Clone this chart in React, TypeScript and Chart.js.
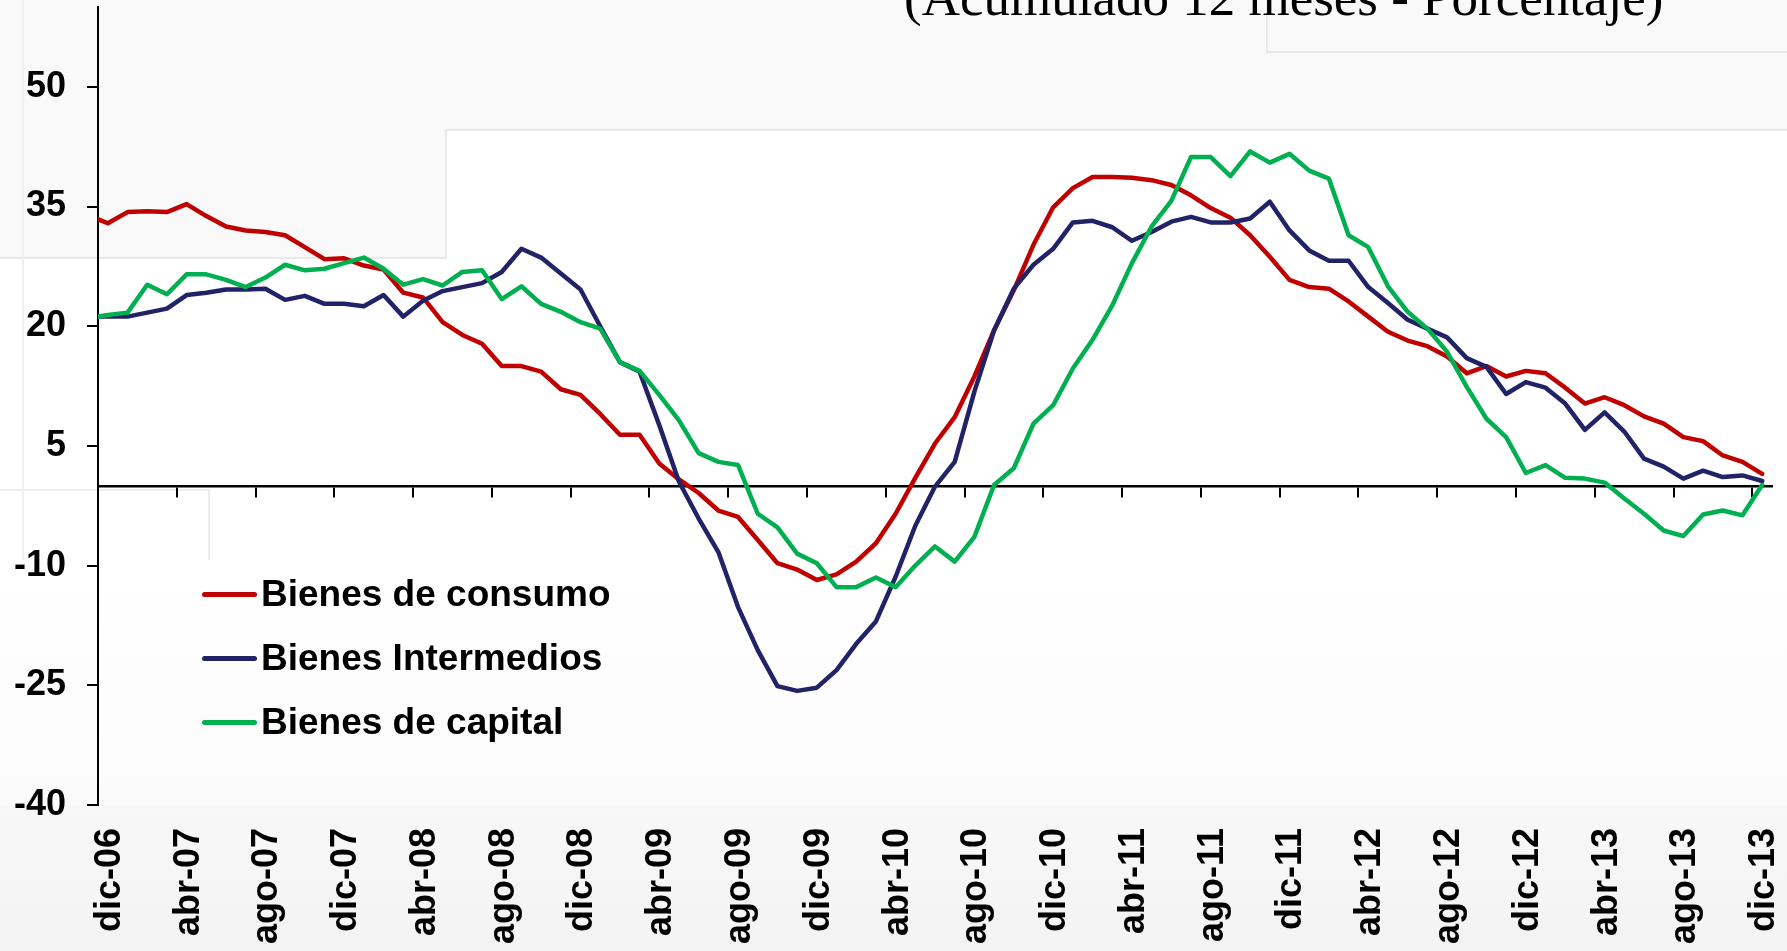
import React, { useEffect, useRef } from 'react';
import { Chart, registerables } from 'chart.js';

Chart.register(...registerables);

// ---- Categories: nov-06 .. dic-13 (nov-06 sits just left of the axis and is clipped) ----
const NOMBRES_MES = ['ene', 'feb', 'mar', 'abr', 'may', 'jun', 'jul', 'ago', 'sep', 'oct', 'nov', 'dic'];
const meses: string[] = Array.from({ length: 86 }, (_, k) => {
  const n = 10 + k;
  return `${NOMBRES_MES[n % 12]}-${String(6 + Math.floor(n / 12)).padStart(2, '0')}`;
});

// ---- Series values (%, accumulated 12 months) ----
const consumo = [
  33.9, 32.9, 34.3, 34.4, 34.3, 35.3, 33.8, 32.5, 32.0, 31.8, 31.4, 29.9, 28.4, 28.5, 27.6, 27.1,
  24.2, 23.6, 20.5, 18.9, 17.8, 15.0, 15.0, 14.3, 12.1, 11.4, 9.0, 6.4, 6.4, 2.8, 0.8, -0.9,
  -3.1, -3.9, -6.8, -9.7, -10.5, -11.8, -11.1, -9.5, -7.2, -3.5, 1.0, 5.3, 8.6, 13.7, 19.5, 24.5,
  30.2, 34.9, 37.3, 38.7, 38.7, 38.6, 38.3, 37.7, 36.4, 34.8, 33.6, 31.4, 28.7, 25.8, 24.9, 24.7,
  23.1, 21.2, 19.3, 18.2, 17.5, 16.2, 14.1, 15.0, 13.7, 14.4, 14.1, 12.3, 10.3, 11.1, 10.1, 8.7,
  7.8, 6.1, 5.6, 3.8, 3.0, 1.5,
];
const intermedios = [
  21.2, 21.2, 21.2, 21.7, 22.2, 23.9, 24.2, 24.6, 24.6, 24.7, 23.3, 23.8, 22.8, 22.8, 22.5, 23.9,
  21.2, 23.2, 24.4, 24.9, 25.4, 26.8, 29.7, 28.6, 26.6, 24.6, 20.0, 15.5, 14.3, 7.6, 0.5, -4.1,
  -8.3, -15.2, -20.6, -25.1, -25.7, -25.3, -23.1, -19.8, -17.0, -11.4, -5.0, -0.1, 3.0, 11.8, 19.5, 24.7,
  27.7, 29.7, 33.0, 33.2, 32.4, 30.7, 31.8, 33.1, 33.7, 33.0, 33.0, 33.5, 35.6, 32.0, 29.5, 28.2,
  28.2, 24.9, 22.9, 20.8, 19.7, 18.6, 16.0, 14.9, 11.5, 13.0, 12.3, 10.3, 7.0, 9.2, 6.8, 3.4,
  2.4, 0.9, 1.9, 1.1, 1.3, 0.6,
];
const capital = [
  21.0, 21.4, 21.7, 25.2, 24.0, 26.5, 26.5, 25.8, 24.9, 26.1, 27.7, 27.0, 27.2, 27.9, 28.6, 27.2,
  25.2, 25.9, 25.1, 26.8, 27.0, 23.4, 25.0, 22.8, 21.8, 20.5, 19.7, 15.5, 14.4, 11.4, 8.2, 4.1,
  3.0, 2.6, -3.5, -5.2, -8.5, -9.7, -12.7, -12.7, -11.5, -12.7, -10.0, -7.6, -9.5, -6.4, 0.1, 2.2,
  7.8, 10.1, 14.7, 18.3, 22.6, 27.9, 32.5, 35.7, 41.2, 41.2, 38.8, 41.9, 40.5, 41.6, 39.5, 38.5,
  31.4, 29.9, 25.0, 21.8, 19.7, 16.8, 12.4, 8.4, 6.1, 1.6, 2.6, 1.0, 0.9, 0.4, -1.6, -3.5,
  -5.6, -6.3, -3.6, -3.1, -3.7, 0.1,
];

const yTicks = [-40, -25, -10, 5, 20, 35, 50];
const titulo = '(Acumulado 12 meses - Porcentaje)';
const series = [
  { label: 'Bienes de consumo', values: consumo, color: '#C00000', order: 2 },
  { label: 'Bienes Intermedios', values: intermedios, color: '#222266', order: 1 },
  { label: 'Bienes de capital', values: capital, color: '#00B050', order: 0 },
];

const SANS = "'Liberation Sans', Arial, Helvetica, sans-serif";
const SERIF = "'Liberation Serif', 'Times New Roman', serif";

// x value of month k in meses = k - 1 (dic-06 = 0)
const labelTickValues = meses.map((_, k) => k - 1).filter((v) => v >= 0 && v % 4 === 0);
const boundaryTickValues = labelTickValues.map((v) => v - 0.5);

export default function App() {
  const canvasRef = useRef<HTMLCanvasElement | null>(null);

  useEffect(() => {
    const canvas = canvasRef.current;
    if (!canvas) return;
    const font = { family: SANS, size: 36, weight: 'bold' as const };
    const chart = new Chart(canvas, {
      type: 'line',
      data: {
        datasets: series.map((s) => ({
          label: s.label,
          data: s.values.map((v, k) => ({ x: k - 1, y: v })),
          borderColor: s.color,
          backgroundColor: s.color,
          borderWidth: 4.5,
          pointRadius: 0,
          pointHoverRadius: 0,
          tension: 0,
          clip: 0,
          order: s.order,
          borderJoinStyle: 'round' as const,
          borderCapStyle: 'round' as const,
        })),
      },
      options: {
        responsive: false,
        maintainAspectRatio: false,
        animation: false,
        devicePixelRatio: 1,
        events: [],
        layout: { padding: { left: 0, top: 7, right: 15, bottom: 0 } },
        plugins: {
          legend: { display: false },
          tooltip: { enabled: false },
          title: { display: false },
        },
        scales: {
          x: {
            type: 'linear',
            position: 'bottom',
            min: -0.5,
            max: 84.5,
            afterBuildTicks: (axis: any) => {
              axis.ticks = labelTickValues.map((v) => ({ value: v }));
            },
            afterFit: (axis: any) => {
              axis.height = 146;
              axis.paddingLeft = 0;
              axis.paddingRight = 0;
            },
            grid: { display: false, drawTicks: false },
            border: { display: false },
            ticks: {
              autoSkip: false,
              minRotation: 90,
              maxRotation: 90,
              padding: 23,
              labelOffset: 2,
              color: '#000',
              font,
              callback: (v: any) => meses[Number(v) + 1] ?? '',
            },
          },
          x0: {
            type: 'linear',
            axis: 'x',
            position: { y: 0 },
            min: -0.5,
            max: 84.5,
            afterBuildTicks: (axis: any) => {
              axis.ticks = boundaryTickValues.map((v) => ({ value: v }));
            },
            afterFit: (axis: any) => {
              axis.paddingLeft = 0;
              axis.paddingRight = 0;
            },
            grid: { drawOnChartArea: false, drawTicks: true, tickLength: 10, color: '#000', lineWidth: 2 },
            border: { display: true, color: '#000', width: 2.5 },
            ticks: { display: false },
          },
          y: {
            type: 'linear',
            position: 'left',
            min: -40,
            max: 60,
            afterBuildTicks: (axis: any) => {
              axis.ticks = yTicks.map((v) => ({ value: v }));
            },
            afterFit: (axis: any) => {
              axis.width = 98;
              axis.paddingTop = 0;
              axis.paddingBottom = 0;
            },
            grid: { drawOnChartArea: false, drawTicks: true, tickLength: 11, color: '#000', lineWidth: 2 },
            border: { display: true, color: '#000', width: 2 },
            ticks: { padding: 21, color: '#000', font },
          },
        },
      } as any,
    });
    return () => chart.destroy();
  }, []);

  const edge = '#e8e8e8';
  const band = '#f9f9f9';
  const abs = (s: React.CSSProperties): React.CSSProperties => ({ position: 'absolute', ...s });

  return (
    <div style={{ position: 'absolute', left: 0, top: 0, width: 1787, height: 951, overflow: 'hidden', background: '#fff' }}>
      {/* faint slide background panels */}
      <div style={abs({ left: 0, top: 0, width: 1787, height: 130, background: band })} />
      <div style={abs({ left: 0, top: 130, width: 446, height: 128, background: band })} />
      <div style={abs({ left: 446, top: 129, width: 1341, height: 2, background: edge })} />
      <div style={abs({ left: 445, top: 130, width: 2, height: 129, background: edge })} />
      <div style={abs({ left: 0, top: 257, width: 447, height: 2, background: edge })} />
      <div style={abs({ left: 1266, top: 0, width: 2, height: 52, background: edge })} />
      <div style={abs({ left: 1266, top: 51, width: 521, height: 2, background: edge })} />
      <div style={abs({ left: 22, top: 0, width: 2, height: 700, background: '#f0f0f0' })} />
      <div style={abs({ left: 0, top: 699, width: 24, height: 2, background: '#f0f0f0' })} />
      <div style={abs({ left: 0, top: 489, width: 210, height: 2, background: '#ededed' })} />
      <div style={abs({ left: 208, top: 490, width: 2, height: 150, background: '#ededed' })} />
      <div style={abs({ left: 0, top: 560, width: 1787, height: 245, background: 'linear-gradient(#ffffff, #fbfbfb)' })} />
      <div style={abs({ left: 0, top: 805, width: 1787, height: 146, background: 'linear-gradient(#f8f8f8, #f3f3f3)' })} />

      <canvas ref={canvasRef} width={1787} height={951} style={abs({ left: 0, top: 0, width: 1787, height: 951, display: 'block' })} />

      <div
        style={abs({
          left: 904,
          top: -29,
          fontFamily: SERIF,
          fontSize: 53,
          lineHeight: '53px',
          whiteSpace: 'nowrap',
          color: '#000',
        })}
      >
        {titulo}
      </div>

      {series.map((s, j) => (
        <React.Fragment key={s.label}>
          <div style={abs({ left: 202, top: 592 + 64 * j, width: 55, height: 5, borderRadius: 3, background: s.color })} />
          <div
            style={abs({
              left: 261,
              top: 575 + 64 * j,
              fontFamily: SANS,
              fontWeight: 'bold',
              fontSize: 37,
              lineHeight: '37px',
              whiteSpace: 'nowrap',
              color: '#000',
            })}
          >
            {s.label}
          </div>
        </React.Fragment>
      ))}
    </div>
  );
}
